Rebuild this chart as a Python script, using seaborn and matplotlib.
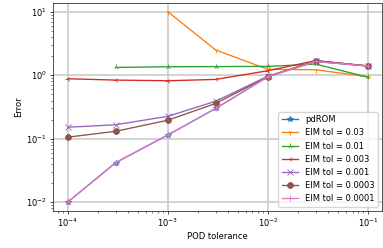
import matplotlib
matplotlib.use("Agg")
import matplotlib.pyplot as plt
import seaborn as sns
import pandas as pd
import numpy as np

pod_tol = [1e-4, 3e-4, 1e-3, 3e-3, 1e-2, 3e-2, 1e-1]
pdrom = [0.0101, 0.042, 0.115, 0.30, 0.95, 1.65, 1.40]
eim_003 = [None, None, 10.0, 2.5, 1.24, 1.22, 0.95]
eim_001 = [None, 1.33, 1.36, 1.37, 1.38, 1.50, 0.93]
eim_0003 = [0.88, 0.84, 0.82, 0.86, 1.18, 1.70, 1.40]
eim_0001 = [0.152, 0.166, 0.226, 0.39, 0.97, 1.65, 1.40]
eim_00003 = [0.106, 0.131, 0.196, 0.36, 0.95, 1.70, 1.40]
eim_00001 = [0.0101, 0.042, 0.115, 0.30, 0.95, 1.65, 1.40]

labels = ["pdROM", "EIM tol = 0.03", "EIM tol = 0.01", "EIM tol = 0.003",
          "EIM tol = 0.001", "EIM tol = 0.0003", "EIM tol = 0.0001"]
series = [pdrom, eim_003, eim_001, eim_0003, eim_0001, eim_00003, eim_00001]
markers = ["*", "1", "2", "3", "x", "o", "+"]
colors = ["#1f77b4", "#ff7f0e", "#2ca02c", "#d62728", "#9467bd", "#8c564b", "#e377c2"]

plt.rcParams['font.family'] = ['DejaVu Sans']
s = 0.6
fig, ax = plt.subplots(figsize=(3.83, 2.48), dpi=100)
for lab, vals, m, c in zip(labels, series, markers, colors):
    df = pd.DataFrame({"x": pod_tol, "y": vals}).dropna()
    sns.lineplot(data=df, x="x", y="y", ax=ax, marker=m, color=c, label=lab,
                 markersize=7 * s, linewidth=1.6 * s, markeredgecolor=c, mew=1.0 * s)
ax.set_xscale("log")
ax.set_yscale("log")
ax.set_xlim(7.1e-5, 1.38e-1)
ax.set_ylim(7.36e-3, 13.9)
ax.grid(True, which="major", color="#cccccc", linewidth=1.2)
ax.set_xlabel("POD tolerance", fontsize=10 * s, labelpad=4 * s)
ax.set_ylabel("Error", fontsize=10 * s, labelpad=4 * s)
ax.tick_params(which="major", labelsize=10 * s, length=3.5 * s, width=0.8 * s, pad=3.5 * s)
ax.tick_params(which="minor", length=2 * s, width=0.6 * s)
for sp in ax.spines.values():
    sp.set_linewidth(0.8 * s)
ax.legend(loc="lower right", fontsize=10 * s, handlelength=2, borderpad=0.4,
          labelspacing=0.5, framealpha=0.8, edgecolor="#cccccc")
fig.subplots_adjust(left=53 / 383, right=382 / 383, bottom=1 - 210.7 / 248, top=1 - 2.7 / 248)
fig.savefig("out.png", dpi=100)
